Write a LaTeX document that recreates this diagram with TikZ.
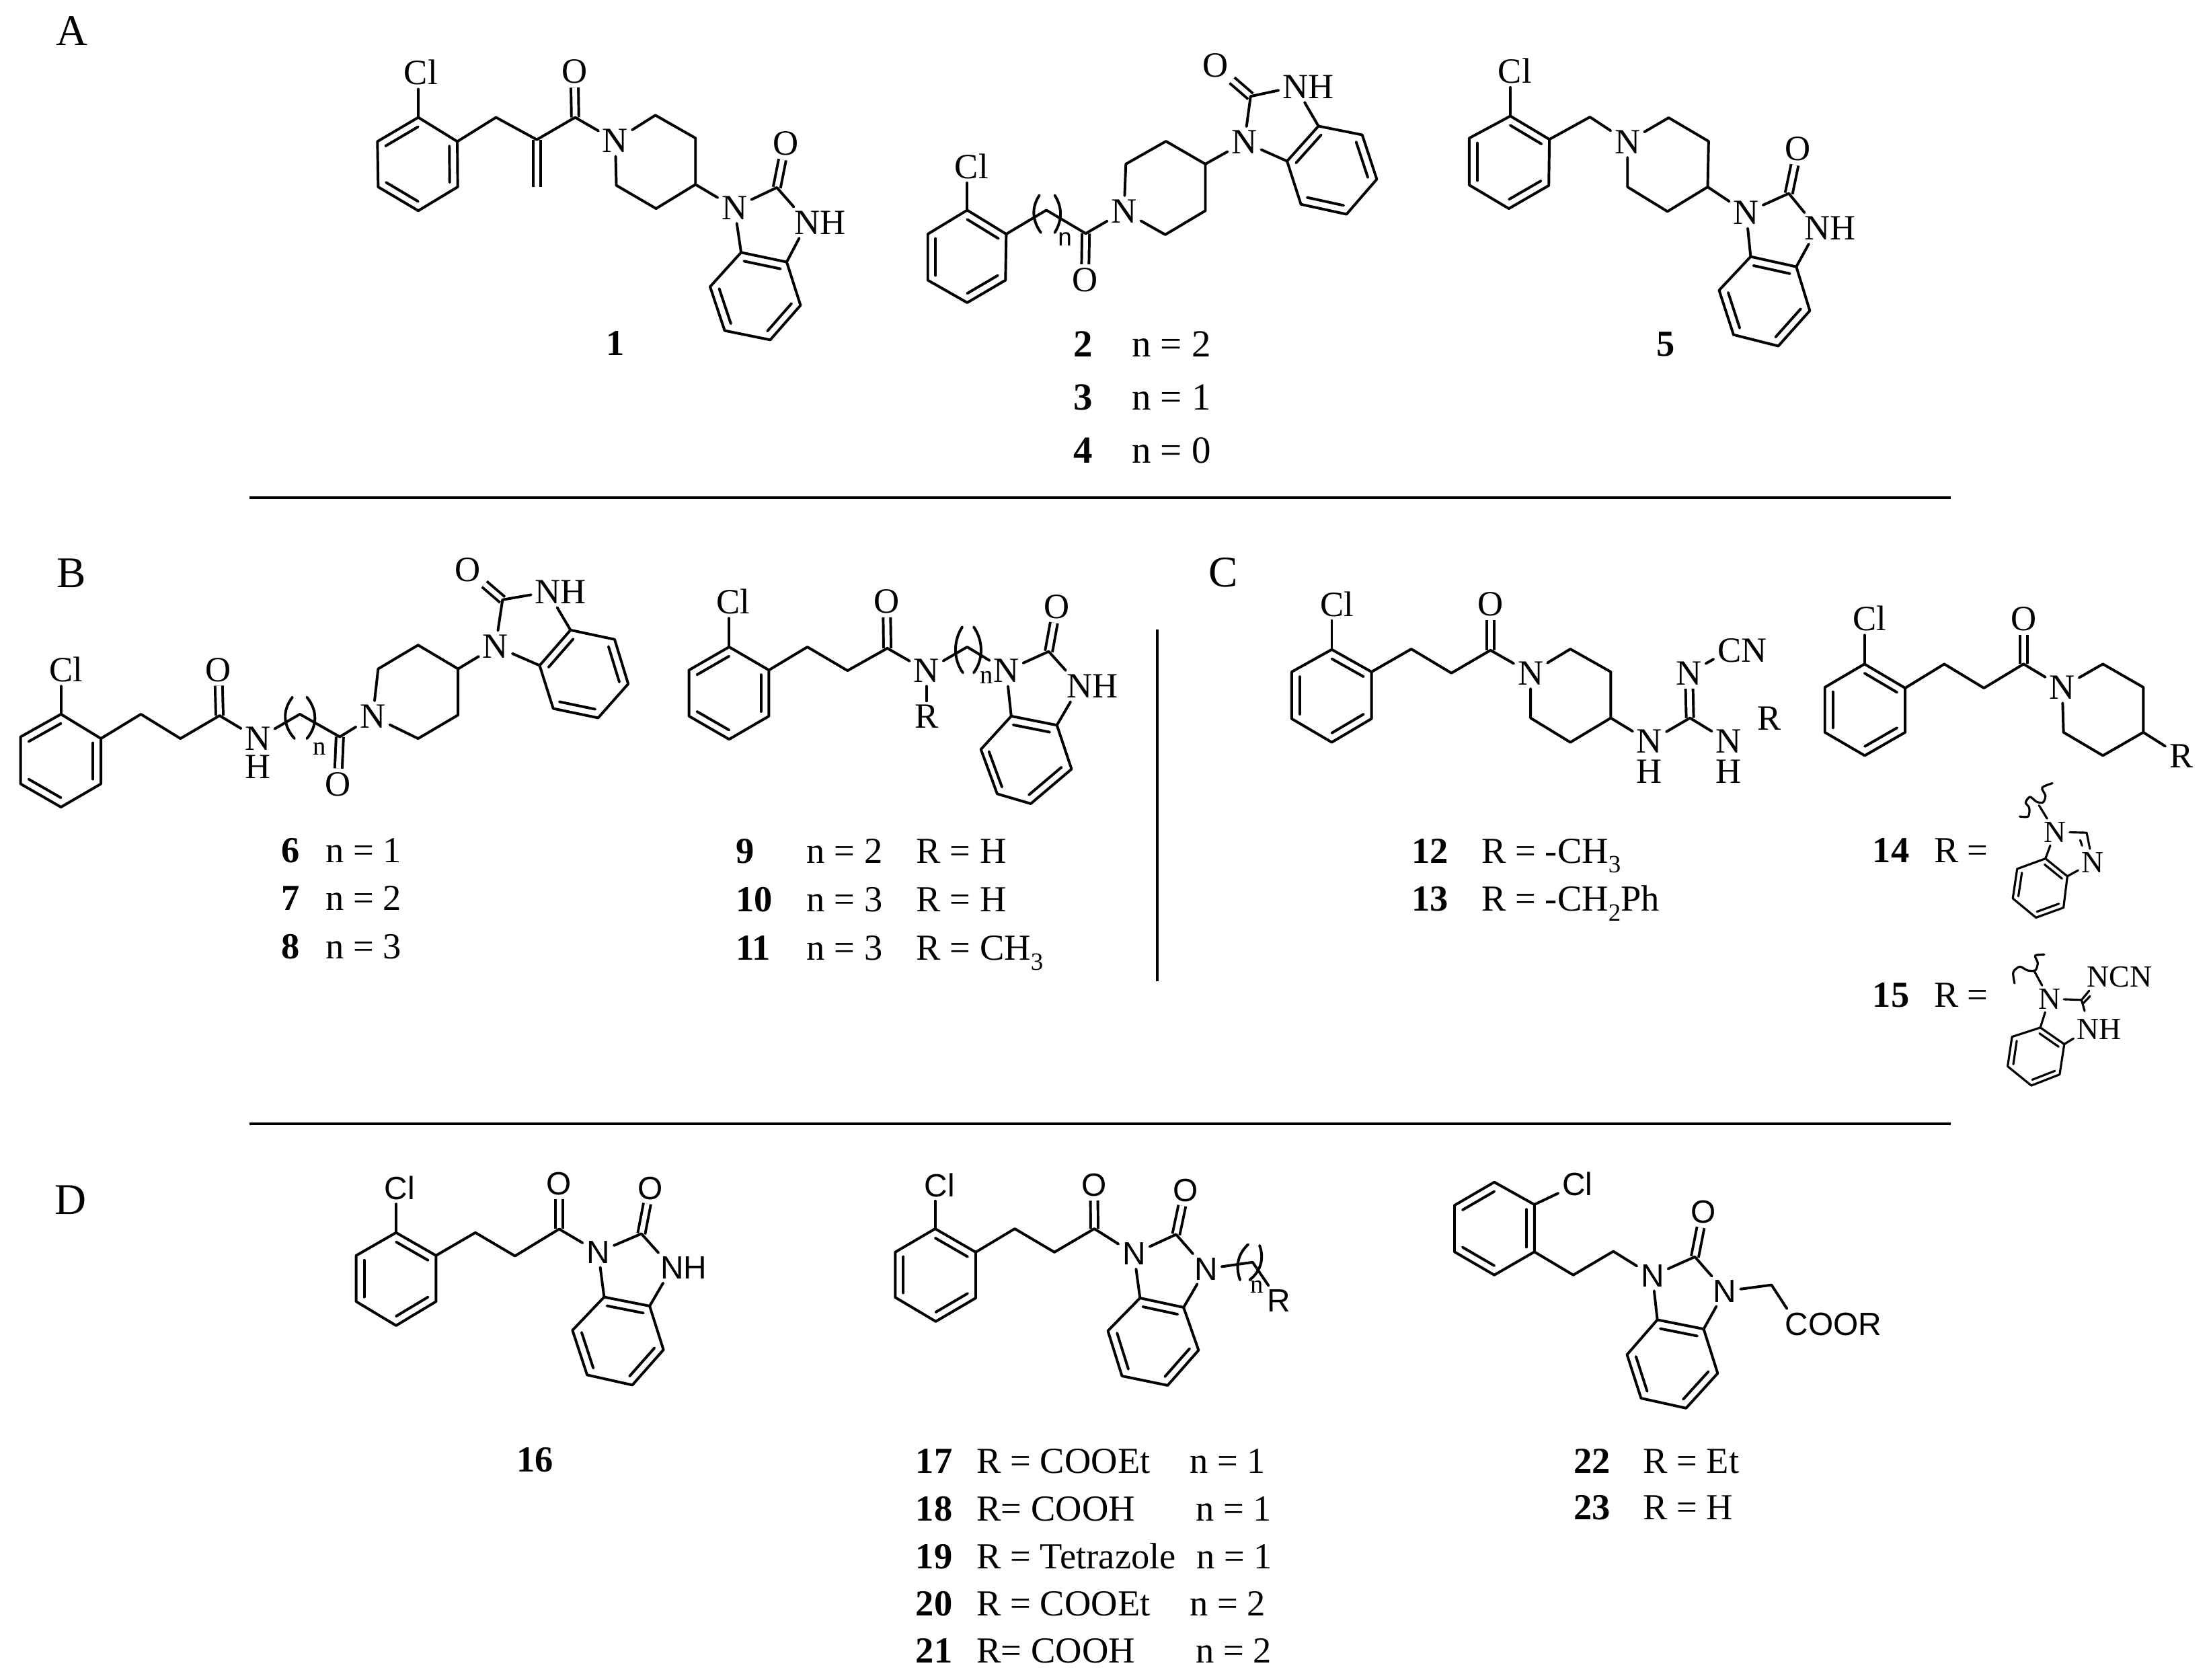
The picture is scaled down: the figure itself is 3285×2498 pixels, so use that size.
\documentclass[tikz,border=0pt]{standalone}
\usepackage{fontspec}
\setmainfont{Liberation Serif}
\newfontfamily\arialf{Liberation Sans}
\usetikzlibrary{calc}
\tikzset{
  zm/.style n args={4}{shift={(#1,#2)},x={0.28453pt*#3/1568},y={-0.28453pt*#4/1568}},
  bond/.style={line width=1.12pt,line cap=round,line join=round},
  thinbond/.style={line width=0.9pt,line cap=round,line join=round},
  dbond/.style={line width=1.12pt,line cap=butt,double,double distance=2pt},
  rule/.style={line width=1.15pt},
  atom/.style={inner sep=1.5pt,font=\fontsize{15}{15}\selectfont},
  sansatoms/.style={atom/.append style={font=\arialf\fontsize{13.6}{14}\selectfont}},
  smallatoms/.style={atom/.append style={inner sep=1.2pt,font=\fontsize{13}{13}\selectfont}},
  lab/.style={inner sep=0pt,anchor=base west,font=\fontsize{15.5}{16}\selectfont},
  letter/.style={inner sep=0pt,font=\fontsize{18.5}{19}\selectfont},
  idx/.style={inner sep=0pt,font=\fontsize{11}{11}\selectfont},
  idxsans/.style={inner sep=0pt,font=\arialf\fontsize{10.5}{11}\selectfont}
}
\newcommand{\pts}[1]{\foreach \n/\x/\y in {#1}{\coordinate (\n) at (\x,\y);}}
\newcommand{\ato}[4]{\node[atom] (#1) at (#2,#3) {#4};}
\newcommand{\lab}[4]{\node[lab] (#1) at (#2,#3) {#4};}
\newcommand{\lowH}[1]{\llap{\smash{\raisebox{-#1}{H}}}}
\newcommand{\sbs}[1]{\raisebox{-4.2pt}{\fontsize{10.5}{11}\selectfont #1}}
\newcommand{\benz}[6]{%
  \coordinate (cc) at ($(#1)!.5!(#4)$);
  \draw[bond] (#1)--(#2)--(#3)--(#4)--(#5)--(#6)--cycle;
  \draw[bond] ($(cc)!.8!(#1)$)--($(cc)!.8!(#2)$);
  \draw[bond] ($(cc)!.8!(#3)$)--($(cc)!.8!(#4)$);
  \draw[bond] ($(cc)!.8!(#5)$)--($(cc)!.8!(#6)$);
}
\newcommand{\tbenz}[6]{%
  \coordinate (cc) at ($(#1)!.5!(#4)$);
  \draw[thinbond] (#1)--(#2)--(#3)--(#4)--(#5)--(#6)--cycle;
  \draw[thinbond] ($(cc)!.8!(#1)$)--($(cc)!.8!(#2)$);
  \draw[thinbond] ($(cc)!.8!(#3)$)--($(cc)!.8!(#4)$);
  \draw[thinbond] ($(cc)!.8!(#5)$)--($(cc)!.8!(#6)$);
}
\begin{document}
\begin{tikzpicture}[x=0.01cm,y=-0.01cm]
\fill[white] (0,0) rectangle (3285,2498);
\useasboundingbox (0,0) rectangle (3285,2498);
% section letters and rules
\node[letter] (secA) at (107,46) {A};
\node[letter] (secB) at (106,852) {B};
\node[letter] (secC) at (1819,851) {C};
\node[letter] (secD) at (105,1784) {D};
\coordinate (ruleAl) at (371,740); \coordinate (ruleAr) at (2901,740);
\coordinate (ruleBl) at (371,1671); \coordinate (ruleBr) at (2901,1671);
\coordinate (ruleVt) at (1721,936); \coordinate (ruleVb) at (1721,1459);
\draw[rule] (ruleAl)--(ruleAr);
\draw[rule] (ruleBl)--(ruleBr);
\draw[rule] (ruleVt)--(ruleVb);

% ---- 1
\begin{scope}[zm={500}{0}{850}{720},name prefix=m1-]
\pts{r1/113/458,r2/225/380,r3/332/458,r4/333/605,r5/225/682,r6/115/605,
 c1/438/380,c2/550/452,c3/655/380,ch/550/605,
 p1/875/373,p2/985/447,p3/985/597,p4/877/675,p5/768/600,
 u/1208/607,b1/1110/817,b2/1235/848,b3/1273/988,b4/1190/1100,b5/1065/1070,b6/1025/928}
\ato{Cl}{232}{235}{Cl}\ato{O}{653}{232}{O}\ato{N}{765}{455}{N}
\ato{Na}{1092}{672}{N}\ato{Ou}{1232}{465}{O}\ato{NH}{1292}{720}{N\rlap{H}}
\draw[dbond] (c3)--(O); \draw[dbond] (c2)--(ch); \draw[dbond] (u)--(Ou);
\benz{r1}{r2}{r3}{r4}{r5}{r6}
\benz{b1}{b2}{b3}{b4}{b5}{b6}
\draw[bond] (r2)--(r2 |- Cl.south);
\draw[bond] (r3)--(c1)--(c2)--(c3)--(N)--(p1)--(p2)--(p3)--(p4)--(p5)--(N);
\draw[bond] (p3)--(Na)--(u)--(NH)--(b2); \draw[bond] (Na)--(b1);
\node[lab,font=\bfseries\fontsize{15.5}{16}\selectfont] (lab1) at (738,1150) {1};
\end{scope}

% ---- 2,3,4
\begin{scope}[zm={1300}{40}{850}{680},name prefix=m2-,lab/.append style={font=\fontsize{16.2}{17}\selectfont}]
\pts{r1/255/628,r2/362/710,r3/360/868,r4/255/945,r5/147/868,r6/147/710,
 c1/472/628,c2/580/708,p1/690/470,p2/800/392,p3/908/470,p4/908/630,p5/798/712,
 u/1032/238,b1/1132/460,b2/1218/340,b3/1338/370,b4/1378/522,b5/1295/642,b6/1170/608}
\ato{Cl}{267}{478}{Cl}\ato{O}{578}{868}{O}\ato{N}{685}{632}{N}
\ato{Na}{1015}{395}{N}\ato{Ou}{935}{133}{O}\ato{NH}{1155}{205}{N\rlap{H}}
\draw[dbond] (c2)--(O); \draw[dbond] (u)--(Ou);
\benz{r1}{r2}{r3}{r4}{r5}{r6}
\benz{b1}{b2}{b3}{b4}{b5}{b6}
\draw[bond] (r1)--(r1 |- Cl.south);
\draw[bond] (r2)--(c1)--(c2)--(N)--(p1)--(p2)--(p3)--(p4)--(p5)--(N);
\draw[bond] (p3)--(Na)--(u)--(NH)--(b2); \draw[bond] (Na)--(b1);
\draw[bond] (453,577) .. controls (430,620) and (434,665) .. (457,705);
\draw[bond] (495,577) .. controls (517,620) and (515,665) .. (495,705);
\node[idxsans] (n) at (523,727) {n};
\lab{l2}{545}{1130}{\bfseries 2}\lab{t2}{705}{1130}{n = 2}
\lab{l3}{545}{1312}{\bfseries 3}\lab{t3}{705}{1312}{n = 1}
\lab{l4}{545}{1495}{\bfseries 4}\lab{t4}{705}{1495}{n = 0}
\end{scope}

% ---- 5
\begin{scope}[zm={2150}{0}{700}{560},name prefix=m5-]
\pts{r1/215/483,r2/345/580,r3/343/772,r4/210/868,r5/78/770,r6/78/575,
 c1/480/487,p1/742/490,p2/875/588,p3/872/778,p4/738/880,p5/605/778,
 u/1142/805,b1/1015/1068,b2/1167/1110,b3/1212/1293,b4/1107/1440,b5/958/1393,b6/910/1208}
\ato{Cl}{230}{295}{Cl}\ato{N}{605}{590}{N}\ato{Na}{1000}{885}{N}
\ato{Ou}{1173}{620}{O}\ato{NH}{1237}{950}{N\rlap{H}}
\draw[dbond] (u)--(Ou);
\benz{r1}{r2}{r3}{r4}{r5}{r6}
\benz{b1}{b2}{b3}{b4}{b5}{b6}
\draw[bond] (r1)--(r1 |- Cl.south);
\draw[bond] (r2)--(c1)--(N)--(p1)--(p2)--(p3)--(p4)--(p5)--(N);
\draw[bond] (p3)--(Na)--(u)--(NH)--(b2); \draw[bond] (Na)--(b1);
\lab{l5}{700}{1482}{\bfseries 5}
\end{scope}

% ---- 6,7,8
\begin{scope}[zm={0}{800}{960}{660},name prefix=m6-]
\pts{r1/50/702,r2/148/622,r3/245/708,r4/245/868,r5/148/950,r6/50/868,
 c1/342/622,c2/438/708,c3/533/627,c4/728/622,c5/825/702,
 p1/918/462,p2/1015/378,p3/1112/462,p4/1112/625,p5/1015/708,
 u/1220/218,b1/1310/450,b2/1385/325,b3/1492/358,b4/1525/515,b5/1452/635,b6/1343/602}
\ato{Cl}{160}{465}{Cl}\ato{O}{530}{465}{O}\ato{Nh}{626}{708}{N\lowH{11.9pt}}
\ato{Ob}{820}{870}{O}\ato{N}{905}{630}{N}
\ato{Na}{1203}{382}{N}\ato{Ou}{1135}{112}{O}\ato{NH}{1330}{190}{N\rlap{H}}
\draw[dbond] (c3)--(O); \draw[dbond] (c5)--(Ob); \draw[dbond] (u)--(Ou);
\benz{r1}{r2}{r3}{r4}{r5}{r6}
\benz{b1}{b2}{b3}{b4}{b5}{b6}
\draw[bond] (r2)--(r2 |- Cl.south);
\draw[bond] (r3)--(c1)--(c2)--(c3)--(Nh)--(c4)--(c5)--(N)--(p1)--(p2)--(p3)--(p4)--(p5)--(N);
\draw[bond] (p3)--(Na)--(u)--(NH)--(b2); \draw[bond] (Na)--(b1);
\draw[bond] (710,562) .. controls (684,610) and (688,665) .. (715,708);
\draw[bond] (745,562) .. controls (772,610) and (770,665) .. (745,708);
\node[idx] (n) at (775,745) {n};
\lab{l6}{682}{1145}{\bfseries 6}\lab{t6}{790}{1145}{n = 1}
\lab{l7}{682}{1315}{\bfseries 7}\lab{t7}{790}{1315}{n = 2}
\lab{l8}{682}{1485}{\bfseries 8}\lab{t8}{790}{1485}{n = 3}
\end{scope}

% ---- 9,10,11
\begin{scope}[zm={980}{850}{760}{620},name prefix=m9-]
\pts{r1/92/370,r2/215/283,r3/337/370,r4/337/543,r5/215/630,r6/92/543,
 c1/455/283,c2/578/372,c3/700/288,c4/945/283,
 u/1195/300,b1/1080/543,b2/1220/577,b3/1265/742,b4/1140/872,b5/1037/835,b6/987/668}
\ato{Cl}{228}{113}{Cl}\ato{O}{698}{112}{O}\ato{N}{820}{372}{N}\ato{R}{820}{545}{R}
\ato{Na}{1065}{372}{N}\ato{Ou}{1220}{132}{O}\ato{NH}{1290}{430}{N\rlap{H}}
\draw[dbond] (c3)--(O); \draw[dbond] (u)--(Ou);
\benz{r1}{r2}{r3}{r4}{r5}{r6}
\benz{b1}{b2}{b3}{b4}{b5}{b6}
\draw[bond] (r2)--(r2 |- Cl.south);
\draw[bond] (r3)--(c1)--(c2)--(c3)--(N)--(c4)--(Na)--(u)--(NH)--(b2);
\draw[bond] (N)--(R); \draw[bond] (Na)--(b1);
\draw[bond] (930,208) .. controls (902,260) and (902,330) .. (932,380);
\draw[bond] (965,208) .. controls (995,260) and (995,330) .. (965,380);
\node[idx] (n) at (1005,398) {n};
\lab{l9}{235}{1095}{\bfseries 9}\lab{a9}{452}{1095}{n = 2}\lab{b9}{788}{1095}{R = H}
\lab{l10}{235}{1278}{\bfseries 10}\lab{a10}{452}{1278}{n = 3}\lab{b10}{788}{1278}{R = H}
\lab{l11}{235}{1460}{\bfseries 11}\lab{a11}{452}{1460}{n = 3}\lab{b11}{788}{1460}{R = CH\sbs{3}}
\end{scope}

% ---- 12,13
\begin{scope}[zm={1880}{840}{820}{560},name prefix=m12-]
\pts{r1/192/352,r2/305/445,r3/305/640,r4/192/738,r5/78/640,r6/78/445,
 c1/418/350,c2/532/450,c3/643/355,p1/870/350,p2/985/445,p3/985/637,p4/870/738,p5/757/637,
 g/1210/637}
\ato{Cl}{207}{163}{Cl}\ato{O}{643}{163}{O}\ato{N}{757}{450}{N}
\ato{Na}{1095}{735}{N\lowH{12.6pt}}
\ato{Nb}{1320}{735}{N\lowH{12.6pt}}
\ato{Nc}{1207}{450}{N}\ato{CN}{1322}{355}{C\rlap{N}}\ato{R}{1435}{640}{R}
\draw[dbond] (c3)--(O); \draw[dbond] (g)--(Nc);
\benz{r1}{r2}{r3}{r4}{r5}{r6}
\draw[bond] (r1)--(r1 |- Cl.south);
\draw[bond] (r2)--(c1)--(c2)--(c3)--(N)--(p1)--(p2)--(p3)--(p4)--(p5)--(N);
\draw[bond] (p3)--(Na)--(g)--(Nb); \draw[bond] (Nc)--(CN);
\lab{l12}{418}{1240}{\bfseries 12}\lab{t12}{617}{1240}{R = -CH\sbs{3}}
\lab{l13}{418}{1440}{\bfseries 13}\lab{t13}{617}{1440}{R = -CH\sbs{2}Ph}
\end{scope}

% ---- 14,15
\begin{scope}[zm={2680}{820}{600}{860},name prefix=m14-]
\pts{r1/242/305,r2/400/370,r3/400/490,r4/243/553,r5/88/490,r6/88/368,
 c1/552/305,c2/706/370,c3/860/305,p1/1168/305,p2/1325/368,p3/1325/490,p4/1168/553,p5/1015/490}
\ato{Cl}{262}{182}{Cl}\ato{O}{860}{182}{O}\ato{N}{1010}{368}{N}\ato{R}{1472}{555}{R}
\draw[dbond] (c3)--(O);
\benz{r1}{r2}{r3}{r4}{r5}{r6}
\draw[bond] (r1)--(r1 |- Cl.south);
\draw[bond] (r2)--(c1)--(c2)--(c3)--(N)--(p1)--(p2)--(p3)--(p4)--(p5)--(N);
\draw[bond] (p3)--(R);
\lab{l14}{272}{842}{\bfseries 14}\lab{t14}{510}{842}{R =}
\lab{l15}{272}{1235}{\bfseries 15}\lab{t15}{510}{1235}{R =}
\begin{scope}[smallatoms]
\pts{a1/945/832,a2/1030/880,a3/1015/965,a4/908/992,a5/818/940,a6/835/860,
 s/1105/762,w/920/688,di/1080/782,dj/1087/797}
\ato{Na}{983}{760}{N}\ato{Nb}{1128}{842}{N}
\tbenz{a1}{a2}{a3}{a4}{a5}{a6}
\draw[thinbond] (w)--(Na)--(s)--(Nb)--(a2); \draw[thinbond] (Na)--(a1); \draw[thinbond] (di)--(dj);
\draw[thinbond] plot[smooth] coordinates {(845,718)(878,718)(882,695)(868,680)(885,665)(910,678)(935,680)(945,662)(932,640)(972,628)};
\pts{e1/925/1290,e2/1018/1335,e3/1000/1417,e4/890/1447,e5/798/1395,e6/815/1315,
 v/1085/1215,x/900/1135,vn/1115/1190,vh/1097/1245,vd/1092/1224,ve/1118/1205}
\ato{Nd}{960}{1212}{N}\ato{NCN}{1150}{1152}{N\rlap{CN}}\ato{NHb}{1110}{1295}{N\rlap{H}}
\tbenz{e1}{e2}{e3}{e4}{e5}{e6}
\draw[thinbond] (x)--(Nd)--(v)--(vn); \draw[thinbond] (v)--(vh); \draw[thinbond] (vd)--(ve);
\draw[thinbond] (NHb)--(e2); \draw[thinbond] (Nd)--(e1);
\draw[thinbond] plot[smooth] coordinates {(825,1170)(820,1140)(845,1125)(875,1135)(905,1135)(915,1115)(905,1095)(940,1092)};
\end{scope}
\end{scope}

% ---- 16
\begin{scope}[zm={500}{1720}{620}{523},name prefix=m16-,sansatoms]
\pts{r1/225/338,r2/375/440,r3/375/645,r4/225/752,r5/75/645,r6/75/440,
 c1/523/338,c2/672/442,c3/838/322,u/1147/343,
 b1/1007/625,b2/1178/665,b3/1230/860,b4/1113/1017,b5/943/972,b6/888/773}
\ato{Cl}{238}{140}{Cl}\ato{O}{838}{120}{O}\ato{N}{985}{425}{N}
\ato{Ou}{1180}{140}{O}\ato{NH}{1262}{495}{N\rlap{H}}
\draw[dbond] (c3)--(O); \draw[dbond] (u)--(Ou);
\benz{r1}{r2}{r3}{r4}{r5}{r6}
\benz{b1}{b2}{b3}{b4}{b5}{b6}
\draw[bond] (r1)--(r1 |- Cl.south);
\draw[bond] (r2)--(c1)--(c2)--(c3)--(N)--(u)--(NH)--(b2); \draw[bond] (N)--(b1);
\lab{l16}{677}{1405}{\bfseries 16}
\end{scope}

% ---- 17-21
\begin{scope}[zm={1300}{1720}{700}{780},name prefix=m17-,sansatoms]
\pts{r1/203/215,r2/338/285,r3/338/422,r4/205/492,r5/70/420,r6/70/285,
 c1/468/215,c2/600/285,c3/733/215,u/1005/232,c4/1260/315,
 b1/885/422,b2/1030/450,b3/1080/578,b4/977/683,b5/825/655,b6/778/520}
\ato{Cl}{218}{85}{Cl}\ato{O}{732}{85}{O}\ato{N}{865}{290}{N}\ato{Ou}{1036}{100}{O}
\ato{Na}{1105}{335}{N}\ato{R}{1347}{430}{R}
\draw[dbond] (c3)--(O); \draw[dbond] (u)--(Ou);
\benz{r1}{r2}{r3}{r4}{r5}{r6}
\benz{b1}{b2}{b3}{b4}{b5}{b6}
\draw[bond] (r1)--(r1 |- Cl.south);
\draw[bond] (r2)--(c1)--(c2)--(c3)--(N)--(u)--(Na)--(c4)--(R);
\draw[bond] (N)--(b1); \draw[bond] (b2)--(Na);
\draw[bond] (1245,262) .. controls (1205,295) and (1205,335) .. (1218,368);
\draw[bond] (1283,265) .. controls (1298,300) and (1290,340) .. (1250,368);
\node[idx] (n) at (1275,388) {n};
\lab{l17}{137}{945}{\bfseries 17}\lab{a17}{340}{945}{R = COOEt}\lab{b17}{1050}{945}{n = 1}
\lab{l18}{137}{1087}{\bfseries 18}\lab{a18}{340}{1087}{R= COOH}\lab{b18}{1070}{1087}{n = 1}
\lab{l19}{137}{1230}{\bfseries 19}\lab{a19}{340}{1230}{R = Tetrazole}\lab{b19}{1072}{1230}{n = 1}
\lab{l20}{137}{1372}{\bfseries 20}\lab{a20}{340}{1372}{R = COOEt}\lab{b20}{1050}{1372}{n = 2}
\lab{l21}{137}{1512}{\bfseries 21}\lab{a21}{340}{1512}{R= COOH}\lab{b21}{1070}{1512}{n = 2}
\end{scope}

% ---- 22,23
\begin{scope}[zm={2130}{1720}{760}{580},name prefix=m22-,sansatoms]
\pts{r1/68/195,r2/190/102,r3/313/192,r4/313/382,r5/190/475,r6/68/382,
 c1/432/475,c2/555/380,u/805/402,c3/1040/515,
 b1/690/655,b2/832/692,b3/875/870,b4/778/1010,b5/640/970,b6/597/795}
\ato{Cl}{445}{110}{Cl}\ato{N}{675}{478}{N}\ato{Ou}{832}{222}{O}\ato{Na}{897}{540}{N}
\ato{COOR}{1118}{672}{C\rlap{OOR}}
\draw[dbond] (u)--(Ou);
\benz{r1}{r2}{r3}{r4}{r5}{r6}
\benz{b1}{b2}{b3}{b4}{b5}{b6}
\draw[bond] (r3)--(Cl);
\draw[bond] (r4)--(c1)--(c2)--(N)--(u)--(Na)--(c3)--(COOR);
\draw[bond] (N)--(b1); \draw[bond] (b2)--(Na);
\lab{l22}{432}{1270}{\bfseries 22}\lab{t22}{645}{1270}{R = Et}
\lab{l23}{432}{1458}{\bfseries 23}\lab{t23}{645}{1458}{R = H}
\end{scope}
\end{tikzpicture}
\end{document}
